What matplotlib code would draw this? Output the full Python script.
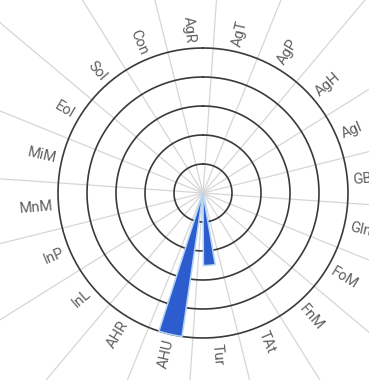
import numpy as np
import matplotlib
matplotlib.use("Agg")
import matplotlib.pyplot as plt

# categories clockwise starting just right of north
categories = ["AgT", "AgP", "AgH", "AgI", "GBR", "Gln", "FoM", "FnM", "TAt", "Tur",
              "AHU", "AHR", "InL", "InP", "MnM", "MiM", "EoI", "SoI", "Con", "AgR"]
values = [0, 0, 0, 0, 0, 0, 0, 0, 0, 2.5,
          5.0, 0, 0, 0, 0, 0, 0, 0, 0, 0]
rings = [1, 2, 3, 4, 5]

n = len(categories)
step = 360.0 / n
start = 13.0  # angle of first category (deg, clockwise from north)
theta = np.deg2rad(start + step * np.arange(n))
bounds = np.deg2rad(start - step / 2 + step * np.arange(n))

fig = plt.figure(figsize=(3.69, 3.80), dpi=100)
# centre of the wheel sits at (203, 193) px, 29 px per unit
cx, cy, rmax, ppu = 203 / 369, 1 - 193 / 380, 10, 29
w = 2 * rmax * ppu / 369
h = 2 * rmax * ppu / 380
ax = fig.add_axes([cx - w / 2, cy - h / 2, w, h], projection="polar")
ax.set_theta_zero_location("N")
ax.set_theta_direction(-1)
ax.set_ylim(0, rmax)
ax.spines["polar"].set_visible(False)
ax.set_xticks(bounds)
ax.set_xticklabels([])
ax.set_yticks([])
ax.xaxis.grid(True, color="#d6d6d6", lw=0.9)
ax.yaxis.grid(False)

# rings
tt = np.linspace(0, 2 * np.pi, 400)
for r in rings:
    ax.plot(tt, np.full_like(tt, r), color="#3a3a3a", lw=1.2, zorder=2)

# bars
ax.bar(theta, values, width=np.deg2rad(step) * 0.52, color="#2d5ccf",
       edgecolor="#b3d4f4", lw=1.1, zorder=3)

# labels anchored just outside the outer ring
for ang, lab in zip(theta, categories):
    deg = np.rad2deg(ang)
    math_deg = 90 - deg
    if deg % 360 < 180:
        rot, ha = math_deg, "left"
    else:
        rot, ha = math_deg + 180, "right"
    ax.text(ang, 5.2, lab, rotation=rot, rotation_mode="anchor", ha=ha, va="center",
            fontsize=10.5, color="#606060", family=["Roboto", "DejaVu Sans"])

fig.savefig("out.png", dpi=100, facecolor="white")
